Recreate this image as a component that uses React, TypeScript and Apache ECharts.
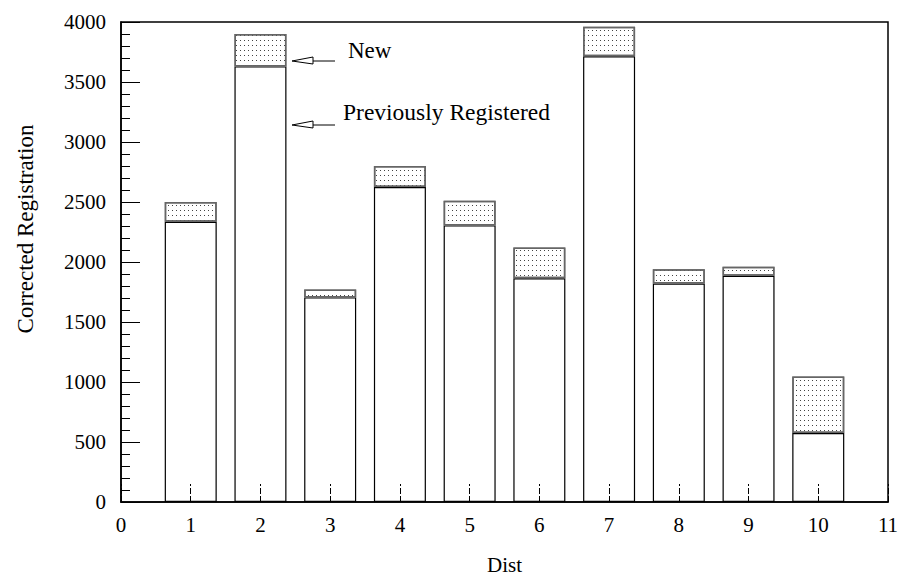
import React, { useEffect, useRef } from "react";
import * as echarts from "echarts";

// Tick labels along the district axis (0 and 11 are empty edges)
const xTicks = ["0", "1", "2", "3", "4", "5", "6", "7", "8", "9", "10", "11"];
// District numbers that carry a bar
const districts = ["1", "2", "3", "4", "5", "6", "7", "8", "9", "10"];
// Registrations already on file before the correction
const previouslyRegistered = [2335, 3630, 1705, 2625, 2305, 1865, 3715, 1820, 1885, 575];
// Newly added registrations stacked on top
const newRegistrations = [165, 270, 65, 175, 205, 255, 245, 120, 75, 470];

const FONT = '"Liberation Serif", "Times New Roman", serif';

const byTick = (values: number[]) =>
  xTicks.map((t) => {
    const i = districts.indexOf(t);
    return i >= 0 ? values[i] : null;
  });

export default function App() {
  const ref = useRef<HTMLDivElement>(null);

  useEffect(() => {
    if (!ref.current) return;
    const chart = echarts.init(ref.current, null, { renderer: "svg" });

    const arrow = (y: number) => ({
      type: "group",
      children: [
        {
          type: "polygon",
          shape: { points: [[292, y], [313, y - 4], [313, y + 3]] },
          style: { fill: "#fff", stroke: "#000", lineWidth: 1 },
        },
        {
          type: "line",
          shape: { x1: 313, y1: y, x2: 335, y2: y },
          style: { stroke: "#000", lineWidth: 1 },
        },
      ],
    });

    chart.setOption({
      animation: false,
      backgroundColor: "#fff",
      grid: {
        left: 121,
        right: 12,
        top: 22,
        bottom: 75,
        outerBoundsMode: "none",
        containLabel: false,
        show: true,
        borderColor: "#000",
        borderWidth: 1.5,
        backgroundColor: "transparent",
      },
      xAxis: {
        type: "category",
        data: xTicks,
        boundaryGap: false,
        z: 5,
        name: "Dist",
        nameLocation: "middle",
        nameGap: 52,
        nameTextStyle: { fontFamily: FONT, fontSize: 21, color: "#000" },
        axisLine: { show: true, lineStyle: { color: "#000", width: 1.5 } },
        axisTick: {
          show: true,
          inside: true,
          length: 18,
          lineStyle: { color: "#000", width: 1, type: [6, 2] },
        },
        axisLabel: { fontFamily: FONT, fontSize: 21, color: "#000", margin: 12, interval: 0 },
        splitLine: { show: false },
      },
      yAxis: {
        type: "value",
        min: 0,
        max: 4000,
        interval: 500,
        z: 5,
        axisLine: { show: true, lineStyle: { color: "#000", width: 1.5 } },
        axisTick: { show: true, inside: true, length: 19, lineStyle: { color: "#000", width: 1 } },
        minorTick: { show: true, splitNumber: 5, length: 9, lineStyle: { color: "#000", width: 1 } },
        axisLabel: {
          fontFamily: FONT,
          fontSize: 21,
          color: "#000",
          margin: 15,
          formatter: (v: number) => String(v),
        },
        splitLine: { show: false },
      },
      series: [
        {
          name: "Previously Registered",
          type: "bar",
          stack: "total",
          barWidth: 52,
          data: byTick(previouslyRegistered),
          itemStyle: { color: "rgba(255,255,255,0)", borderColor: "#000", borderWidth: 1.2 },
        },
        {
          name: "New",
          type: "bar",
          stack: "total",
          barWidth: 52,
          data: byTick(newRegistrations),
          itemStyle: {
            color: "#fff",
            borderColor: "#666",
            borderWidth: 1.5,
            decal: {
              symbol: "rect",
              symbolSize: 1,
              dashArrayX: [1, 3],
              dashArrayY: [1, 4],
              color: "#444",
              backgroundColor: "#fff",
              rotation: 0,
            },
          },
        },
      ],
      graphic: [
        arrow(61),
        arrow(125),
        {
          type: "text",
          x: 348,
          y: 50,
          style: { text: "New", font: `23px ${FONT}`, fill: "#000", verticalAlign: "middle" },
        },
        {
          type: "text",
          x: 343,
          y: 112,
          style: {
            text: "Previously Registered",
            font: `23.5px ${FONT}`,
            fill: "#000",
            verticalAlign: "middle",
          },
        },
        {
          type: "text",
          x: 25,
          y: 229,
          rotation: Math.PI / 2,
          style: {
            text: "Corrected Registration",
            font: `23px ${FONT}`,
            fill: "#000",
            align: "center",
            verticalAlign: "middle",
          },
        },
      ],
    });

    return () => chart.dispose();
  }, []);

  return (
    <div
      ref={ref}
      style={{ position: "fixed", left: 0, top: 0, width: 900, height: 577, background: "#fff" }}
    />
  );
}
